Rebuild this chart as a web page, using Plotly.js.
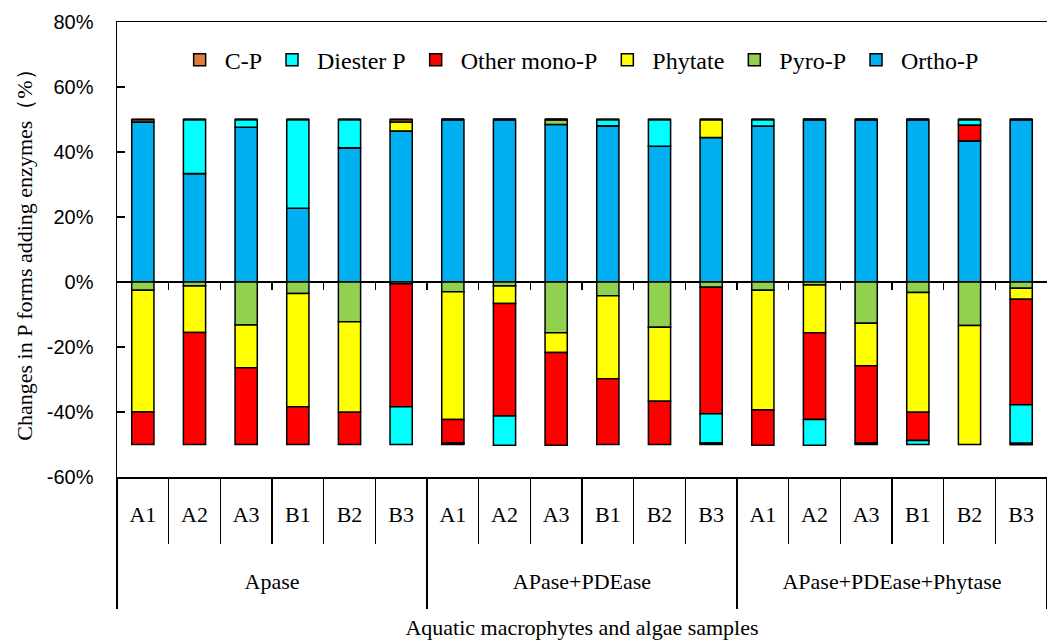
<!DOCTYPE html>
<html>
<head>
<meta charset="utf-8">
<script src="https://cdn.plot.ly/plotly-3.0.1.min.js"></script>
<style>html,body{margin:0;padding:0;background:#fff;}#chart{width:1047px;height:640px;}</style>
</head>
<body>
<div id="chart"></div>
<script>
// ---- data (percent) ----
const groups = ['Apase','Apase','Apase','Apase','Apase','Apase',
  'APase+PDEase','APase+PDEase','APase+PDEase','APase+PDEase','APase+PDEase','APase+PDEase',
  'APase+PDEase+Phytase','APase+PDEase+Phytase','APase+PDEase+Phytase','APase+PDEase+Phytase','APase+PDEase+Phytase','APase+PDEase+Phytase'];
const samples = ['A1','A2','A3','B1','B2','B3','A1','A2','A3','B1','B2','B3','A1','A2','A3','B1','B2','B3'];
const groupNames = ['Apase', 'APase+PDEase', 'APase+PDEase+Phytase'];

// positive parts
const orthoPos   = [49.2, 33.4, 47.6, 22.7, 41.3, 46.5,  50, 50, 48.5, 48.1, 41.8, 44.5,  48.0, 50, 50, 50, 43.5, 50];
const pyroPos    = [0, 0, 0, 0, 0, 0,  0, 0, 1.5, 0, 0, 0,  0, 0, 0, 0, 0, 0];
const phytatePos = [0, 0, 0, 0, 0, 2.7,  0, 0, 0, 0, 0, 5.5,  0, 0, 0, 0, 0, 0];
const otherPos   = [0, 0, 0, 0, 0, 0,  0, 0, 0, 0, 0, 0,  0, 0, 0, 0, 4.8, 0];
const diesterPos = [0, 16.6, 2.4, 27.3, 8.7, 0,  0, 0, 0, 1.9, 8.2, 0,  2.0, 0, 0, 0, 1.7, 0];
const cpPos      = [0.8, 0, 0, 0, 0, 0.8,  0, 0, 0, 0, 0, 0,  0, 0, 0, 0, 0, 0];

// negative parts
const pyroNeg    = [-2.5, -1.2, -13.2, -3.5, -12.2, -0.5,  -3.0, -1.2, -15.6, -4.2, -13.9, -1.6,  -2.5, -0.9, -12.7, -3.2, -13.4, -1.9];
const phytateNeg = [-37.5, -14.3, -13.2, -34.9, -27.9, 0,  -39.3, -5.4, -6.1, -25.6, -22.8, 0,  -36.9, -14.7, -13.1, -36.9, -36.6, -3.4];
const otherNeg   = [-10.0, -34.5, -23.6, -11.6, -9.9, -37.9,  -7.2, -34.6, -28.5, -20.2, -13.3, -38.9,  -10.8, -26.7, -23.7, -8.7, 0, -32.5];
const diesterNeg = [0, 0, 0, 0, 0, -11.6,  0, -9.0, 0, 0, 0, -9.0,  0, -7.9, 0, -1.2, 0, -11.8];
const cpNeg      = [0, 0, 0, 0, 0, 0,  -0.5, 0, 0, 0, 0, -0.5,  0, 0, -0.5, 0, 0, -0.5];

const tickPct = [-60, -40, -20, 0, 20, 40, 60, 80];
const tickPctText = ['-60%', '-40%', '-20%', '0%', '20%', '40%', '60%', '80%'];

// ---- styles ----
const colors = {cp:'#E07B39', diester:'#00FFFF', other:'#FF0000', phytate:'#FFFF00', pyro:'#92D050', ortho:'#00B0F0'};
const serif = "'Liberation Serif', 'Times New Roman', serif";
const sans = "'Liberation Sans', Arial, sans-serif";
const x = [groups, samples];

function bar(name, y, color, rank, show) {
  return {
    type:'bar', x:x, y:y, name:name, legendgroup:name, showlegend:show, legendrank:rank,
    marker:{color:color, line:{color:'#000', width:1.5}}, hoverinfo:'skip'
  };
}
function dummy(ax) {
  return {type:'scatter', x:[0], y:[0], xaxis:ax, yaxis:'y', mode:'markers', marker:{opacity:0}, showlegend:false, hoverinfo:'skip'};
}

const traces = [
  bar('Ortho-P', orthoPos, colors.ortho, 6, true),
  bar('Pyro-P', pyroPos, colors.pyro, 5, true),
  bar('Phytate', phytatePos, colors.phytate, 4, true),
  bar('Other mono-P', otherPos, colors.other, 3, true),
  bar('Diester P', diesterPos, colors.diester, 2, true),
  bar('C-P', cpPos, colors.cp, 1, true),
  bar('Pyro-P', pyroNeg, colors.pyro, 5, false),
  bar('Phytate', phytateNeg, colors.phytate, 4, false),
  bar('Other mono-P', otherNeg, colors.other, 3, false),
  bar('Diester P', diesterNeg, colors.diester, 2, false),
  bar('C-P', cpNeg, colors.cp, 1, false),
  dummy('x2'), dummy('x3'), dummy('x4'), dummy('x5'), dummy('x6')
];

const n = samples.length;
const per = n / groupNames.length;
const sampleIdx = samples.map((_, i) => i);
const bounds = samples.slice(1).map((_, i) => i + 0.5);
const groupCenters = groupNames.map((_, g) => g * per + (per - 1) / 2);
const groupBounds = [0].concat(groupNames.map((_, g) => (g + 1) * per)).map(v => v - 0.5);
const yMin = tickPct[0], yMax = tickPct[tickPct.length - 1];
const xr = [-0.5, n - 0.5];

function overlay(extra) {
  return Object.assign({overlaying:'x', anchor:'y', side:'bottom', range:xr,
    showline:false, showgrid:false, zeroline:false, ticks:'', showticklabels:false,
    tickcolor:'#000', tickwidth:1.5}, extra);
}

const layout = {
  width:1047, height:640,
  margin:{l:117, r:0, t:22, b:163},
  paper_bgcolor:'#fff', plot_bgcolor:'#fff',
  barmode:'relative', bargap:0.57,
  showlegend:true,
  legend:{orientation:'h', x:0.062, y:0.916, xanchor:'left', yanchor:'middle', itemwidth:40,
    font:{family:serif, size:24, color:'#000'}, bgcolor:'rgba(0,0,0,0)', traceorder:'normal'},
  yaxis:{range:[yMin, yMax], tickvals:tickPct, ticktext:tickPctText, ticks:'inside', ticklen:8, tickwidth:1.5, tickcolor:'#000',
    showline:true, linecolor:'#000', linewidth:1.5, showgrid:false,
    zeroline:true, zerolinecolor:'#000', zerolinewidth:1.5,
    tickfont:{family:sans, size:20, color:'#000'}, ticklabelstandoff:18,
    title:{text:'Changes in P forms adding enzymes（%）', font:{family:serif, size:22, color:'#000'}, standoff:8}},
  xaxis:{type:'multicategory', showline:true, linecolor:'#000', linewidth:1.5, mirror:true,
    ticks:'', showgrid:false, showdividers:false, showticklabels:false,
    title:{text:'Aquatic macrophytes and algae samples', font:{family:serif, size:22, color:'#000'}, standoff:142}},
  // ticks on the zero line
  xaxis2:overlay({anchor:'free', position:(0 - yMin) / (yMax - yMin), tickvals:bounds, ticks:'outside', ticklen:7}),
  // sample separators
  xaxis3:overlay({tickvals:bounds, ticks:'outside', ticklen:66}),
  // sample labels
  xaxis4:overlay({tickvals:sampleIdx, ticktext:samples, showticklabels:true, ticklabelstandoff:22,
    tickfont:{family:serif, size:22, color:'#000'}}),
  // group labels
  xaxis5:overlay({tickvals:groupCenters, ticktext:groupNames, showticklabels:true, ticklabelstandoff:89,
    tickfont:{family:serif, size:22, color:'#000'}}),
  // group separators
  xaxis6:overlay({tickvals:groupBounds, ticks:'outside', ticklen:131})
};

Plotly.newPlot('chart', traces, layout, {staticPlot:true, displayModeBar:false});
</script>
</body>
</html>
